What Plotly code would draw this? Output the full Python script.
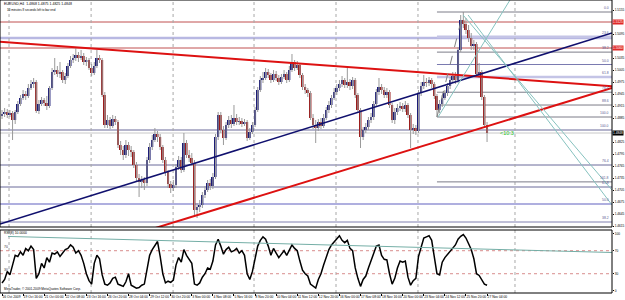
import plotly.graph_objects as go

# ---------------- data (EURUSD H4) ----------------
tick_labels = ["16 Oct 2009", "19 Oct 16:00", "21 Oct 00:00", "22 Oct 08:00", "23 Oct 16:00",
               "26 Oct 20:00", "28 Oct 04:00", "29 Oct 12:00", "30 Oct 20:00", "3 Nov 00:00",
               "4 Nov 08:00", "5 Nov 16:00", "8 Nov 20:00", "10 Nov 04:00", "11 Nov 12:00",
               "12 Nov 20:00", "16 Nov 00:00", "17 Nov 08:00", "18 Nov 16:00", "20 Nov 00:00",
               "23 Nov 04:00", "24 Nov 12:00", "25 Nov 20:00", "27 Nov 04:00"]

bar_open = [1.4890, 1.4895, 1.4900, 1.48925, 1.48975, 1.4880, 1.4900, 1.4920, 1.4935, 1.4945,
            1.4940, 1.4960, 1.4970, 1.4975, 1.49025, 1.4920, 1.4930, 1.49225, 1.4915, 1.4960,
            1.5000, 1.5005, 1.4995, 1.5000, 1.4980, 1.4990, 1.5015, 1.5030, 1.5035, 1.50425,
            1.5035, 1.5040, 1.5025, 1.5030, 1.5010, 1.49975, 1.5015, 1.5035, 1.5030, 1.49425,
            1.48675, 1.4880, 1.4865, 1.48825, 1.4875, 1.48175, 1.4805, 1.47925, 1.48175, 1.4805,
            1.4800, 1.47675, 1.4735, 1.4725, 1.4730, 1.47225, 1.4780, 1.48125, 1.4830, 1.4845,
            1.48375, 1.48125, 1.4780, 1.4750, 1.4720, 1.4710, 1.47175, 1.47625, 1.4780, 1.4755,
            1.48225, 1.47925, 1.4785, 1.47725, 1.4655, 1.46625, 1.46675, 1.46925, 1.4705, 1.47225,
            1.4715, 1.47375, 1.48375, 1.48925, 1.4855, 1.4835, 1.48675, 1.4880, 1.4870, 1.4885,
            1.4875, 1.48775, 1.4870, 1.4875, 1.4835, 1.4850, 1.48675, 1.4905, 1.4955, 1.4980,
            1.4985, 1.5000, 1.49925, 1.4980, 1.4995, 1.4985, 1.4975, 1.49875, 1.4995, 1.4980,
            1.5005, 1.5025, 1.5010, 1.50175, 1.49925, 1.49625, 1.4955, 1.49475, 1.4885, 1.48675,
            1.4860, 1.4875, 1.4865, 1.4885, 1.4905, 1.49175, 1.4935, 1.4950, 1.4960, 1.4970,
            1.4980, 1.49675, 1.4975, 1.4965, 1.4980, 1.49425, 1.4905, 1.48375, 1.4855, 1.48625,
            1.4880, 1.48875, 1.4920, 1.4950, 1.49625, 1.4955, 1.49425, 1.4950, 1.49175, 1.4880,
            1.4900, 1.4910, 1.4915, 1.49075, 1.49175, 1.48925, 1.4855, 1.4860, 1.48525, 1.49475,
            1.4965, 1.4975, 1.49725, 1.4980, 1.4970, 1.4940, 1.4905, 1.4920, 1.4935, 1.49475,
            1.4965, 1.4980, 1.4990, 1.4980, 1.5055, 1.5130, 1.5120, 1.5105, 1.5085, 1.5065,
            1.5070, 1.4995, 1.5000, 1.49375, 1.48675]

bar_high = [1.4905, 1.4910, 1.49075, 1.4905, 1.49025, 1.4905, 1.49275, 1.49425, 1.4955, 1.49525,
            1.4970, 1.4980, 1.4985, 1.4980, 1.4930, 1.49375, 1.4935, 1.4940, 1.4965, 1.5010,
            1.5035, 1.5015, 1.5025, 1.5005, 1.49975, 1.50225, 1.5040, 1.5045, 1.5060, 1.5050,
            1.5055, 1.50475, 1.50375, 1.5035, 1.5020, 1.5025, 1.5055, 1.50425, 1.5035, 1.4950,
            1.48925, 1.48875, 1.48925, 1.4890, 1.4880, 1.48275, 1.4815, 1.4830, 1.4825, 1.4815,
            1.4805, 1.4775, 1.4745, 1.4740, 1.47375, 1.47875, 1.48225, 1.48425, 1.4860, 1.48525,
            1.4845, 1.48175, 1.47875, 1.4755, 1.47275, 1.4730, 1.4770, 1.4790, 1.47875, 1.48475,
            1.4830, 1.4805, 1.47975, 1.4780, 1.46725, 1.4680, 1.4700, 1.4715, 1.4730, 1.47325,
            1.47475, 1.4845, 1.4900, 1.4900, 1.4865, 1.4875, 1.4890, 1.48925, 1.49175, 1.4895,
            1.48875, 1.4885, 1.48825, 1.4880, 1.4860, 1.4875, 1.49125, 1.49625, 1.4990, 1.5000,
            1.5010, 1.50075, 1.49975, 1.5005, 1.50025, 1.49925, 1.4995, 1.5005, 1.5000, 1.5015,
            1.5045, 1.5030, 1.50275, 1.50225, 1.49975, 1.4970, 1.4960, 1.49525, 1.4895, 1.4880,
            1.48825, 1.4885, 1.4895, 1.49125, 1.49275, 1.49425, 1.4960, 1.4970, 1.4980, 1.4990,
            1.4985, 1.5010, 1.49825, 1.49875, 1.4985, 1.49475, 1.4910, 1.48625, 1.48725, 1.48875,
            1.48975, 1.49275, 1.49575, 1.4985, 1.4970, 1.49625, 1.4960, 1.4955, 1.49225, 1.4910,
            1.4920, 1.4925, 1.49225, 1.49275, 1.49225, 1.48975, 1.4870, 1.48675, 1.4955, 1.4975,
            1.49925, 1.4985, 1.49875, 1.4985, 1.4975, 1.4945, 1.4930, 1.49425, 1.4955, 1.49725,
            1.49875, 1.5000, 1.5000, 1.50625, 1.51425, 1.5150, 1.5135, 1.51175, 1.50975, 1.5080,
            1.5075, 1.50225, 1.5005, 1.49425, 1.4875]

bar_low = [1.48825, 1.48875, 1.4885, 1.48875, 1.4830, 1.4870, 1.4895, 1.4915, 1.4930, 1.4930,
           1.4935, 1.4955, 1.4960, 1.48975, 1.4895, 1.4915, 1.4915, 1.4905, 1.4910, 1.4955,
           1.49925, 1.49875, 1.4985, 1.49725, 1.4970, 1.4985, 1.5010, 1.50225, 1.50275, 1.5025,
           1.5030, 1.50175, 1.5015, 1.5005, 1.4990, 1.49925, 1.5010, 1.50225, 1.49375, 1.4860,
           1.4860, 1.48575, 1.4860, 1.48675, 1.4810, 1.47925, 1.4780, 1.4785, 1.4790, 1.47875,
           1.4760, 1.4725, 1.46875, 1.4710, 1.4705, 1.4715, 1.47725, 1.4805, 1.4825, 1.4825,
           1.4805, 1.47725, 1.4740, 1.4710, 1.46975, 1.47025, 1.4710, 1.4755, 1.47475, 1.4750,
           1.4785, 1.4775, 1.4765, 1.4640, 1.4635, 1.4650, 1.4660, 1.46850, 1.4700, 1.4705,
           1.47075, 1.47325, 1.4830, 1.48475, 1.48175, 1.4830, 1.4860, 1.4860, 1.4865, 1.48675,
           1.48675, 1.48625, 1.4865, 1.48275, 1.4830, 1.4845, 1.48625, 1.4900, 1.4950, 1.49725,
           1.4980, 1.4985, 1.49725, 1.4975, 1.49775, 1.49675, 1.4970, 1.49825, 1.49725, 1.4975,
           1.5000, 1.50025, 1.5005, 1.4985, 1.4955, 1.4945, 1.49375, 1.4880, 1.48575, 1.48225,
           1.48525, 1.48575, 1.4860, 1.4880, 1.48975, 1.4910, 1.4930, 1.49425, 1.49525, 1.49625,
           1.4960, 1.4960, 1.4955, 1.49575, 1.4935, 1.48975, 1.4810, 1.4830, 1.48475, 1.4855,
           1.48725, 1.4880, 1.4915, 1.49425, 1.4945, 1.4935, 1.4935, 1.4910, 1.48725, 1.4870,
           1.48925, 1.49025, 1.4900, 1.4900, 1.4885, 1.4810, 1.4845, 1.48425, 1.48475, 1.4940,
           1.49575, 1.49625, 1.4965, 1.4960, 1.49325, 1.48875, 1.48975, 1.49125, 1.4930, 1.4940,
           1.49575, 1.49725, 1.4970, 1.49725, 1.5050, 1.5110, 1.5095, 1.5075, 1.5055, 1.5055,
           1.49875, 1.4985, 1.4930, 1.4860, 1.4825]

bar_close = [1.4895, 1.4900, 1.48925, 1.48975, 1.4880, 1.4900, 1.4920, 1.4935, 1.4945, 1.4940,
             1.4960, 1.4970, 1.4975, 1.49025, 1.4920, 1.4930, 1.49225, 1.4915, 1.4960, 1.5000,
             1.5005, 1.4995, 1.5000, 1.4980, 1.4990, 1.5015, 1.5030, 1.5035, 1.50425, 1.5035,
             1.5040, 1.5025, 1.5030, 1.5010, 1.49975, 1.5015, 1.5035, 1.5030, 1.49425, 1.48675,
             1.4880, 1.4865, 1.48825, 1.4875, 1.48175, 1.4805, 1.47925, 1.48175, 1.4805, 1.4800,
             1.47675, 1.4735, 1.4725, 1.4730, 1.47225, 1.4780, 1.48125, 1.4830, 1.4845, 1.48375,
             1.48125, 1.4780, 1.4750, 1.4720, 1.4710, 1.47175, 1.47625, 1.4780, 1.4755, 1.48225,
             1.47925, 1.4785, 1.47725, 1.4655, 1.46625, 1.46675, 1.46925, 1.4705, 1.47225, 1.4715,
             1.47375, 1.48375, 1.48925, 1.4855, 1.4835, 1.48675, 1.4880, 1.4870, 1.4885, 1.4875,
             1.48775, 1.4870, 1.4875, 1.4835, 1.4850, 1.48675, 1.4905, 1.4955, 1.4980, 1.4985,
             1.5000, 1.49925, 1.4980, 1.4995, 1.4985, 1.4975, 1.49875, 1.4995, 1.4980, 1.5005,
             1.5025, 1.5010, 1.50175, 1.49925, 1.49625, 1.4955, 1.49475, 1.4885, 1.48675, 1.4860,
             1.4875, 1.4865, 1.4885, 1.4905, 1.49175, 1.4935, 1.4950, 1.4960, 1.4970, 1.4980,
             1.49675, 1.4975, 1.4965, 1.4980, 1.49425, 1.4905, 1.48375, 1.4855, 1.48625, 1.4880,
             1.48875, 1.4920, 1.4950, 1.49625, 1.4955, 1.49425, 1.4950, 1.49175, 1.4880, 1.4900,
             1.4910, 1.4915, 1.49075, 1.49175, 1.48925, 1.4855, 1.4860, 1.48525, 1.49475, 1.4965,
             1.4975, 1.49725, 1.4980, 1.4970, 1.4940, 1.4905, 1.4920, 1.4935, 1.49475, 1.4965,
             1.4980, 1.4990, 1.4980, 1.5055, 1.5130, 1.5120, 1.5105, 1.5085, 1.5065, 1.5070,
             1.49950, 1.5000, 1.49375, 1.48675, 1.48475]

rsi_values = [14, 20, 34, 28, 45, 62, 60, 68, 62, 74, 70, 78, 72, 22, 30, 48, 40, 58, 50, 66,
              64, 68, 60, 66, 72, 74, 80, 76, 66, 70, 62, 48, 30, 18, 12, 48, 62, 56, 28, 12,
              10, 14, 22, 24, 12, 10, 8, 16, 30, 10, 8, 5, 6, 10, 12, 35, 62, 72, 80, 86,
              60, 30, 14, 17, 15, 19, 45, 58, 50, 72, 62, 56, 48, 12, 10, 14, 24, 30, 40, 38,
              52, 80, 90, 78, 64, 72, 76, 68, 70, 74, 66, 70, 62, 30, 20, 34, 56, 78, 88, 94,
              90, 78, 62, 74, 66, 58, 64, 70, 62, 72, 80, 74, 70, 52, 36, 30, 26, 12, 8, 5,
              20, 30, 45, 60, 72, 80, 86, 92, 96, 88, 84, 88, 74, 70, 40, 22, 8, 20, 26, 40,
              54, 66, 78, 80, 62, 55, 54, 30, 12, 22, 40, 52, 50, 52, 24, 10, 18, 22, 60, 76,
              92, 94, 96, 88, 60, 30, 28, 50, 58, 64, 68, 74, 80, 90, 95, 98, 92, 82, 72, 56,
              30, 27, 20, 12, 10]

# drawn objects (bar index, price)
upper_red_line = [(0, 1.5075), (184, 1.4987)]
lower_red_line = [(73, 1.4640), (184, 1.48643)]
blue_line = [(0, 1.46215), (184, 1.5000)]
teal_lines = [[(174.9, 1.51425), (231.4, 1.4705)],
              [(176.8, 1.51425), (231.4, 1.46675)],
              [(165.4, 1.48875), (192.7, 1.5180)]]
rsi_teal_line = [(2.3, 94.8), (231.4, 66.9)]

full_levels = [1.5125, 1.5085, 1.5060, 1.4855, 1.47675, 1.47125, 1.4670, 1.4625]
full_level_text = ["", "", "", "100.0", "76.4", "61.8", "50.0", "38.2"]
fib_from_bar, fib_to_bar = 165, 175
fib_ratios = [0.0, 0.236, 0.382, 0.5, 0.618, 0.764, 0.886, 1.0, 1.618]
red_price_labels = [1.5125, 1.5060]
grid_bars = [2.66, 33.8, 64.9, 95.6, 126.7, 157.8, 194.6]

# ---------------- styles ----------------
X_LO, X_HI = -0.76, 231.4
P_LO, P_HI = 1.46125, 1.5180
R_LO, R_HI = -3.5, 106.0
FONT = "Liberation Sans"
UP_COL, DN_COL, WICK_COL = "#1c1c78", "#9b1c1c", "#9a9a9a"
full_level_style = [("#c05050", 1), ("#b8b8e2", 2.5), ("#c05050", 1), ("#6a6a9a", 1.2),
                    ("#6a6a9a", 1), ("#6a6a9a", 1), ("#9494d4", 1.5), ("#8080b0", 1)]

n = len(bar_close)
idx = list(range(n))


def extend(p0, p1, xa=X_LO, xb=X_HI):
    (x0, y0), (x1, y1) = p0, p1
    s = (y1 - y0) / (x1 - x0)
    return [xa, xb], [y0 + s * (xa - x0), y0 + s * (xb - x0)]


fig = go.Figure()

# wicks
wx, wy = [], []
for i in idx:
    wx += [i, i, None]
    wy += [bar_low[i], bar_high[i], None]
fig.add_trace(go.Scatter(x=wx, y=wy, mode="lines", line=dict(color=WICK_COL, width=1),
                         hoverinfo="skip", xaxis="x", yaxis="y"))

# bodies
base = [min(o, c) for o, c in zip(bar_open, bar_close)]
hgt = [abs(c - o) for o, c in zip(bar_open, bar_close)]
cols = [UP_COL if c >= o else DN_COL for o, c in zip(bar_open, bar_close)]
fig.add_trace(go.Bar(x=idx, y=hgt, base=base, width=0.75,
                     marker=dict(color=cols, line=dict(width=0)), xaxis="x", yaxis="y",
                     hoverinfo="skip"))

# trend lines
for pts, col, w in [(upper_red_line, "#dd1111", 2), (lower_red_line, "#dd1111", 2),
                    (blue_line, "#10106e", 1.6)]:
    xs, ys = extend(*pts)
    fig.add_trace(go.Scatter(x=xs, y=ys, mode="lines", line=dict(color=col, width=w),
                             xaxis="x", yaxis="y", hoverinfo="skip"))
for a, b in teal_lines:
    fig.add_trace(go.Scatter(x=[a[0], b[0]], y=[a[1], b[1]], mode="lines",
                             line=dict(color="#86c2bf", width=1), xaxis="x", yaxis="y",
                             hoverinfo="skip"))

# fib retracement
fib_lo = bar_low[fib_from_bar]
fib_hi = bar_high[fib_to_bar]
fig.add_trace(go.Scatter(x=[fib_from_bar, fib_to_bar], y=[fib_lo, fib_hi], mode="lines",
                         line=dict(color="#808080", width=1, dash="dash"), xaxis="x", yaxis="y",
                         hoverinfo="skip"))

shapes, annotations = [], []
for r in fib_ratios:
    lv = fib_hi - r * (fib_hi - fib_lo)
    col, w = ("#c4c4e6", 2.5) if r in (0.236, 0.618) else (("#7a7ab0", 1) if r == 0.5 else ("#7c7c88", 1))
    shapes.append(dict(type="line", xref="x", yref="y", x0=fib_from_bar, x1=X_HI, y0=lv, y1=lv,
                       line=dict(color=col, width=w), layer="below"))
    annotations.append(dict(xref="paper", yref="y", x=0.998, y=lv, text=f"{r*100:.1f}",
                            showarrow=False, xanchor="right", yanchor="bottom",
                            font=dict(size=3.4, color="#5a5a90", family=FONT)))

for lv, (col, w), t in zip(full_levels, full_level_style, full_level_text):
    shapes.append(dict(type="line", xref="x domain", yref="y", x0=0, x1=1, y0=lv, y1=lv,
                       line=dict(color=col, width=w), layer="below"))
    if t:
        annotations.append(dict(xref="paper", yref="y", x=0.998, y=lv, text=t, showarrow=False,
                                xanchor="right", yanchor="bottom",
                                font=dict(size=3.4, color="#5a5a90", family=FONT)))

# current price line
last = bar_close[-1]
shapes.append(dict(type="line", xref="x domain", yref="y", x0=0, x1=1, y0=last, y1=last,
                   line=dict(color="#c8c8c8", width=1), layer="below"))

# vertical grid
for g in grid_bars:
    shapes.append(dict(type="line", xref="x", yref="y domain", x0=g, x1=g, y0=0, y1=1,
                       line=dict(color="#a8a8a8", width=1, dash="dot"), layer="below"))
    shapes.append(dict(type="line", xref="x2", yref="y2 domain", x0=g, x1=g, y0=0, y1=1,
                       line=dict(color="#a8a8a8", width=1, dash="dot"), layer="below"))

# RSI levels
for lv in (70, 30):
    shapes.append(dict(type="line", xref="x2 domain", yref="y2", x0=0, x1=1, y0=lv, y1=lv,
                       line=dict(color="#d88c8c", width=1, dash="dot"), layer="below"))
    annotations.append(dict(xref="paper", yref="y2", x=0.004, y=lv, text=str(lv), showarrow=False,
                            xanchor="left", yanchor="bottom",
                            font=dict(size=3.4, color="#333333", family=FONT)))

# frames
for xr, yr in (("x domain", "y domain"), ("x2 domain", "y2 domain")):
    shapes.append(dict(type="rect", xref=xr, yref=yr, x0=0, x1=1, y0=0, y1=1,
                       line=dict(color="#000000", width=1)))

# RSI traces
fig.add_trace(go.Scatter(x=idx, y=rsi_values, mode="lines", line=dict(color="#000000", width=1.5),
                         xaxis="x2", yaxis="y2", hoverinfo="skip"))
xs, ys = extend(*rsi_teal_line)
fig.add_trace(go.Scatter(x=[rsi_teal_line[0][0], X_HI], y=[rsi_teal_line[0][1], ys[1]], mode="lines",
                         line=dict(color="#74aea6", width=1), xaxis="x2", yaxis="y2",
                         hoverinfo="skip"))

# price labels on axis
axis_labels = red_price_labels + [last]
for p in red_price_labels:
    annotations.append(dict(xref="paper", yref="y", x=1.0, y=p, text=f"{p:.4f}", showarrow=False,
                            xanchor="left", yanchor="middle", bgcolor="#e02828", borderpad=0,
                            font=dict(size=3.2, color="white", family=FONT)))
annotations.append(dict(xref="paper", yref="y", x=1.0, y=last, text=f"{last:.4f}", showarrow=False,
                        xanchor="left", yanchor="middle", bgcolor="#000000", borderpad=0,
                        font=dict(size=3.2, color="white", family=FONT)))

# texts
annotations.append(dict(xref="x", yref="y", x=n + 3, y=last, text="<10:3", showarrow=False,
                        xanchor="left", yanchor="middle",
                        font=dict(size=5.5, color="#22c422", family=FONT)))
hdr = (f"EURUSD,H4  {bar_open[-1]:.4f} {bar_high[-1]:.4f} {bar_low[-1]:.4f} {bar_close[-1]:.4f}")
annotations.append(dict(xref="paper", yref="paper", x=0.004, y=0.987, text=hdr, showarrow=False,
                        xanchor="left", yanchor="middle", font=dict(size=3.5, color="#000000", family=FONT)))
annotations.append(dict(xref="paper", yref="paper", x=0.008, y=0.966,
                        text="10 minutes 8 seconds left to bar end", showarrow=False,
                        xanchor="left", yanchor="middle", font=dict(size=3.0, color="#000000", family=FONT)))
annotations.append(dict(xref="paper", yref="paper", x=0.004, y=0.205,
                        text=f"RSI(8) {rsi_values[-1]:.4f}", showarrow=False,
                        xanchor="left", yanchor="middle", font=dict(size=3.4, color="#000000", family=FONT)))
annotations.append(dict(xref="paper", yref="paper", x=0.004, y=0.014,
                        text="MetaTrader, © 2001-2009 MetaQuotes Software Corp.", showarrow=False,
                        xanchor="left", yanchor="middle", font=dict(size=3.2, color="#000000", family=FONT)))

price_ticks = [round(1.4615 + 0.003 * k, 4) for k in range(19)]
price_ticks = [t for t in price_ticks if all(abs(t - a) > 0.0016 for a in axis_labels)]

fig.update_layout(
    width=625, height=300, margin=dict(l=0, r=13, t=0, b=7, autoexpand=False),
    paper_bgcolor="white", plot_bgcolor="white", showlegend=False, hovermode=False,
    font=dict(family=FONT, color="#000000"),
    xaxis=dict(domain=[0, 1], range=[X_LO, X_HI], anchor="y", showticklabels=False,
               showgrid=False, zeroline=False, ticks=""),
    yaxis=dict(domain=[1 - 227 / 293, 1], range=[P_LO, P_HI], anchor="x", side="right",
               tickvals=price_ticks, ticktext=[f"{v:.4f}" for v in price_ticks],
               tickfont=dict(size=3.2, family=FONT), ticks="outside", ticklen=1, tickcolor="#000",
               ticklabelstandoff=0, showgrid=False, zeroline=False),
    xaxis2=dict(domain=[0, 1], range=[X_LO, X_HI], anchor="y2",
                tickvals=[8 * k for k in range(len(tick_labels))], ticktext=tick_labels,
                tickangle=0, ticklabelposition="outside right", tickfont=dict(size=3.3, family=FONT),
                ticks="outside", ticklen=2, tickcolor="#000", showgrid=False, zeroline=False),
    yaxis2=dict(domain=[0, 63 / 293], range=[R_LO, R_HI], anchor="x2", side="right",
                tickvals=[0, 30, 70, 100], tickfont=dict(size=3.2, family=FONT),
                ticks="outside", ticklen=1, tickcolor="#000", ticklabelstandoff=0,
                showgrid=False, zeroline=False),
    shapes=shapes, annotations=annotations,
)

fig.write_html("out.html")
